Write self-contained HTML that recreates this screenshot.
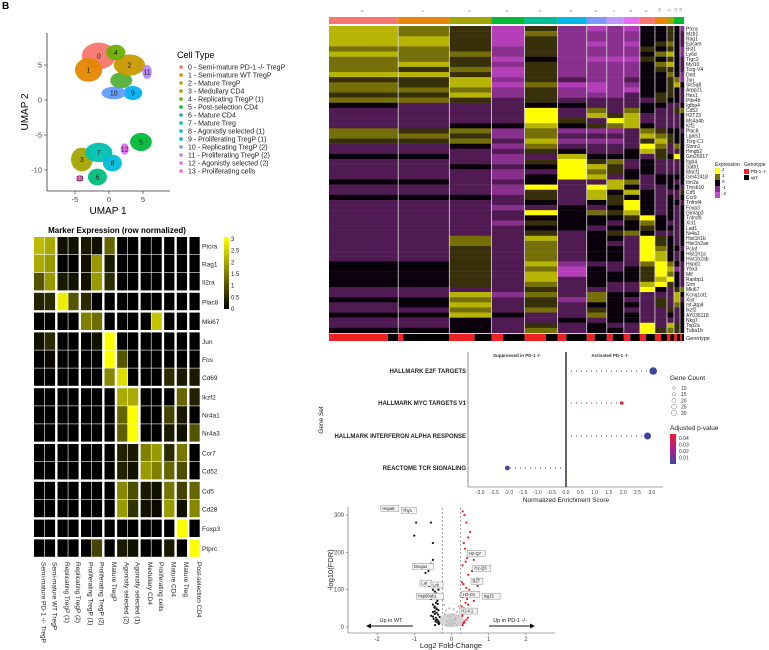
<!DOCTYPE html>
<html><head><meta charset="utf-8">
<style>
html,body{margin:0;padding:0;background:#fff;}
svg{display:block;font-family:"Liberation Sans",Arial,sans-serif;}
</style></head>
<body>
<svg id="fig" width="769" height="650" viewBox="0 0 769 650" xmlns="http://www.w3.org/2000/svg">
<text x="2" y="9" font-size="10" font-weight="bold">B</text>
</svg>
<script>
// ===== DATA =====
const umapClusters=[0,1,2,3,4,5,6,7,8,9,10,11,12,13];
const umapCX=[-1.5,-3,3,-4,1,4.7,-1.7,-1.5,0.5,3.5,0.7,5.6,2.3,-4.3];
const umapCY=[6.3,4.3,5,-8.5,6.8,-6,-11,-7.5,-9,1,1,4,-7,-11.2];
const umapRX=[2.5,2.0,2.3,1.6,1.4,1.6,1.4,2.0,1.4,1.4,1.8,0.7,0.6,0.5];
const umapRY=[1.9,1.7,1.5,1.7,1.1,1.3,1.2,1.4,1.2,1.0,0.9,1.0,0.8,0.5];
const cellTypes=["0 - Semi-mature PD-1 -/- TregP","1 - Semi-mature WT TregP","2 - Mature TregP","3 - Medullary CD4","4 - Replicating TregP (1)","5 - Post-selection CD4","6 - Mature CD4","7 - Mature Treg","8 - Agonistly selected (1)","9 - Proliferating TregP (1)","10 - Replicating TregP (2)","11 - Proliferating TregP (2)","12 - Agonistly selected (2)","13 - Proliferating cells"];
const umapXTicks=[-5,0,5];
const umapYTicks=[5,0,-5,-10];

const markerGenes=["Ptcra","Rag1","Il2ra","Plac8","Mki67","Jun","Fos","Cd69","Ikzf2","Nr4a1","Nr4a3","Ccr7","Cd52","Cd5","Cd28","Foxp3","Ptprc"];
const markerGeneGroups=[0,0,0,1,2,3,3,3,4,4,4,5,5,6,6,7,8];
const markerCols=["Semi-mature PD-1 -/- TregP","Semi-mature WT TregP","Replicating TregP (1)","Replicating TregP (2)","Proliferating TregP (1)","Proliferating TregP (2)","Mature TregP","Agonistly selected (2)","Agonistly selected (1)","Medullary CD4","Proliferating cells","Mature CD4","Mature Treg","Post-selection CD4"];
const markerColGroups=[0,0,1,1,2,2,3,4,4,5,5,6,7,8];
const markerVals=[
[2.2,2.0,0.2,0.2,0.3,0.2,1.2,0,0,0,0,0,0,0],
[2.0,1.8,0,0,0.2,1.8,0.3,0,0,0,0,0,0,0],
[1.0,1.8,0.3,0.2,0.2,1.8,0.5,0,0,0,0,0,0,0],
[0.4,0.5,2.8,1.0,0.5,0,0,0,0,0,0,0,0,0],
[0,0,0,0,1.5,1.3,0,0,0,0,2.3,0,0,0],
[0.2,0.5,0,0,0,0.2,3,0,0,0,0,0,0,0],
[0,0.1,0,0,0,0,3,1.0,0,0,0,0,0,0],
[0,0,0,0,0,0,1.6,2.6,0,0,0,0.5,0.3,0.3],
[0,0,0,0,0,0,0,2.0,2.0,0,0,0,1.2,0.4],
[0,0,0,0,0,0,0,1.2,3,0,0,0.8,0.3,0],
[0,0,0,0,0,0,0,1.1,3,0,0,0.3,0.2,1.0],
[0,0,0,0,0,0,0,0.4,0.3,1.5,1.8,0.5,1.4,0],
[0,0,0,0,0,0,0,0.4,0.2,1.8,1.5,1.2,0.9,0],
[0,0,0,0,0,0,0,1.6,0.9,0.3,0.2,1.4,0.8,1.2],
[0,0,0,0,0,0,0,1.8,0.6,0.2,0.1,1.8,0.2,1.6],
[0,0,0,0,0,0,0,0,0,0,0,0,3,0],
[0,0,0,0,0,0.8,0,0.3,0.2,0,0,0.3,0,3]];
const markerScaleTicks=[0,0.5,1,1.5,2,2.5,3];

const hmClusterLabels=["0","1","2","3","4","5","6","7","8","9","10","11","12","13"];
const hmClusterCells=[69,51,42,33,33,29,20,17,16,15,12,7,6,4];
const hmGenotypeRed=[0.85,0.1,0.6,0.35,0.65,0.3,0.4,0.35,0.4,0.4,0.5,0.5,0.5,0.5];
const hmGenes=["Ptcra","Mzb1","Rag1","Epcam","Bst1","Ly6d","Trgc2","Myl10","Tcrg-V4","Dntt","Jun","Slc5a8","Arpp21","Hes1","Pde4b","Igfbp4","Cd52","H2T23","Ms4a4b","Klf2","Plac8","Lgals1","Tcrg-C1","Stmn1","Hmgb2","Gm26917","Itgb4","Satb1","Macf1","Gm42418","Itm2a","Tmsb10","Cd5","Ccr9","Tnfrsf4","Foxp3","Gimap3","Tnfrsf9","Xcl1","Lad1","Nr4a1","Hist1h1b","Hist1h2ae","Pclaf","Hist1h1a","Hist1h2ab","Hspd1","Ybx3","Mif","Ranbp1","Srm","Mki67","Kcnq1ot1","Xist","mt-Atp8","Ikzf2","AY036118","Nkg7","Top2a","Tuba1b"];
const hmRows=[
"hgfbfcbcbeefec","hgfbgcccceefed","hhfbfcccceefed","hhfbfcbcbefged","ggfcfccccfefec",
"hggcfcccceghec","ggfbecbbbfefed","ghfcfcccceghed","gfgbfcccceffed","hhfbfcccceegec",
"ffhcfdccdeefgc","gfhbgbbcceefhe","gggcfcbcbeefed","ffhcfcccdeffed","ggfdfdddddfeed",
"edddeedddeedde","ddddidgdgeddfg","ddddidhfhdddde","ddddifdihdddde","ddeehefgheddde",
"gfgcgcccdgfeed","ggfcgddddhgfee","ffgdhcccdfhfee","ddecgddddigdge","ddddfeddehfdde",
"eedcdheeedfeie","dddcfifgdeddde","ddedeihfdeddde","dddcdigfeeddde","dddceihdedeeee",
"eeddeddhgdeede","dddcidiheddeed","dddcfdhehedddf","eeedfdhfeedede","ddddedefiedeed",
"dddcdedeiedede","ddddiegfhedede","ddddeeeefieede","dddcfeedegedde","ddddeedeefeede",
"ddddfdefgeddde","ddgdhdeedifede","ddgdgdeddifede","ddfdgdeedigeed","ddfdgdeedihede",
"ddfdgdeedihede","eefdhcdddgiged","eefdgbedefihcd","eefdhbeeefiged","eefdhdeeefhied",
"eefdgdeddhifed","ddddfddddiedfg","ddhcgdgeedddhe","eegdfcgeddfdhd","dehdfdeeedfdge",
"ddgdgdfedddfde","eeheddgeeddede","ddeddedeedddde","ddedfdeddidhfe","eeedgdeedifgfe"];
const exprTicks=[2,1,0,-1,-2];

const gseaSets=["HALLMARK E2F TARGETS","HALLMARK MYC TARGETS V1","HALLMARK INTERFERON ALPHA RESPONSE","REACTOME TCR SIGNALING"];
const gseaNES=[3.05,1.95,2.85,-2.05];
const gseaCount=[28,8,25,14];
const gseaPadj=[0.005,0.045,0.006,0.01];
const gseaXTicks=[-3.0,-2.5,-2.0,-1.5,-1.0,-0.5,0.0,0.5,1.0,1.5,2.0,2.5,3.0];
const countLegend=[10,15,20,25,30];
const padjTicks=[0.04,0.03,0.02,0.01];

const volXTicks=[-2,-1,0,1,2];
const volYTicks=[0,100,200,300];
const wtFC=[-1.0,-0.95,-0.55,-0.5,-0.7,-0.5,-0.6,-0.62,-0.55,-0.5,-0.45,-0.6,-0.55,-0.4,-0.35,-0.5,-0.45,-0.42,-0.38,-0.4,-0.35,-0.5,-0.45,-0.55,-0.42,-0.38,-0.35,-0.33,-0.45,-0.4,-0.5,-0.36,-0.42,-0.48,-0.38,-0.34,-0.44,-0.4,-0.46,-0.37,-0.32,-0.43];
const wtY=[245,280,280,225,145,180,110,150,170,100,95,85,75,90,100,60,55,65,70,50,45,40,35,30,25,20,15,10,42,48,28,33,18,22,12,8,5,38,52,62,27,15];
const pdFC=[0.3,0.35,0.4,0.5,0.45,0.33,0.36,0.5,0.42,0.6,0.38,0.3,0.55,0.45,0.7,0.28,0.32,0.4,0.48,0.52,0.35,0.3,0.42,0.6,0.38,0.45,0.27,0.33,0.5,0.36,0.3,0.29,0.44,0.4,0.35,0.32,0.85,0.7,0.3,0.34];
const pdY=[310,300,280,255,240,225,210,200,185,180,175,165,150,140,130,120,115,105,100,90,85,80,75,70,65,60,55,50,45,40,35,30,25,20,15,10,80,110,5,12];
const nsFC=[-0.2,-0.15,-0.1,-0.05,0,0.05,0.1,0.15,0.2,-0.18,-0.08,0.08,0.18,-0.12,0.12,0,-0.22,0.22,-0.03,0.03,-0.14,0.14,-0.06,0.06];
const nsY=[60,45,30,20,12,18,25,40,55,35,8,10,30,15,20,5,75,85,28,33,5,4,50,48];
const volLabels=["Hspa8","Thy1","Dnaja1","Lat","Hsp90ab1","Lck","H2-D1","H2-K1","H2-Q7","H2-Q6","B2T","Isg15"];
const volLabelFC=[-1.55,-1.0,-0.7,-0.5,-0.6,-0.2,0.3,0.25,0.45,0.6,0.55,0.85];
const volLabelY=[315,310,160,115,80,110,85,40,195,155,120,80];

// ===== DRAW =====
const NS="http://www.w3.org/2000/svg";
const svg=document.getElementById('fig');
function mk(tag,attrs,parent,text){const e=document.createElementNS(NS,tag);for(const k in attrs)e.setAttribute(k,attrs[k]);if(text!==undefined)e.textContent=text;(parent||svg).appendChild(e);return e;}
function grp(name){const g=mk('g',{});return g;}
function lerp(a,b,t){return a+(b-a)*t;}
function mix(c1,c2,t){return 'rgb('+[0,1,2].map(i=>Math.round(lerp(c1[i],c2[i],t))).join(',')+')';}

// --- UMAP ---
const gU=grp('umap-plot');
const ux=v=>109+v*6.8, uy=v=>100-v*7;
const uCols=["#F8766D","#E58700","#C99800","#A3A500","#6BB100","#00BA38","#00BF7D","#00C0AF","#00BCD8","#00B0F6","#619CFF","#B983FF","#E76BF3","#FD61D1"];
mk('line',{x1:47,y1:33,x2:47,y2:191,stroke:'#333','stroke-width':0.8},gU);
mk('line',{x1:47,y1:191,x2:170,y2:191,stroke:'#333','stroke-width':0.8},gU);
mk('ellipse',{cx:ux(1.8),cy:uy(2.8),rx:11,ry:8,fill:'#5BB540'},gU);
umapClusters.forEach((c,i)=>{
  const e=mk('ellipse',{cx:ux(umapCX[i]),cy:uy(umapCY[i]),rx:umapRX[i]*6.8,ry:umapRY[i]*7,fill:uCols[i],opacity:0.95},gU);
  
  
});
umapClusters.forEach((c,i)=>{mk('text',{x:ux(umapCX[i]),y:uy(umapCY[i])+2.5,'font-size':7,'text-anchor':'middle',fill:'#222'},gU,String(c));});
umapXTicks.forEach(t=>{mk('line',{x1:ux(t),y1:191,x2:ux(t),y2:194,stroke:'#333','stroke-width':0.6},gU);mk('text',{x:ux(t),y:202,'font-size':7.5,'text-anchor':'middle',fill:'#444'},gU,String(t));});
umapYTicks.forEach(t=>{mk('line',{x1:44,y1:uy(t),x2:47,y2:uy(t),stroke:'#333','stroke-width':0.6},gU);mk('text',{x:42,y:uy(t)+2.5,'font-size':7.5,'text-anchor':'end',fill:'#444'},gU,String(t));});
const ut1=mk('text',{x:108,y:214,'font-size':10,'text-anchor':'middle'},gU,'UMAP 1');
const ut2=mk('text',{x:0,y:0,'font-size':10,'text-anchor':'middle',transform:'translate(28,112) rotate(-90)'},gU,'UMAP 2');
const gL=grp('cell-type-legend');
mk('text',{x:177,y:58,'font-size':9},gL,'Cell Type');
cellTypes.forEach((t,i)=>{const y=69+i*8;
  const le=mk('g',{},gL);
  mk('circle',{cx:181,cy:y-2,r:1.8,fill:uCols[i]},le);mk('text',{x:188,y:y+0.5,'font-size':7,fill:'#222'},le,t);});

// --- Marker heatmap ---
const gM=grp('marker-heatmap');
mk('text',{x:117,y:233,'font-size':8,'font-weight':'bold','text-anchor':'middle'},gM,'Marker Expression (row normalized)');
const mx0=34,cw=10.85,gapX=1.8,my0=237,rh=18.0,gapY=1.8;
function mColX(j){return mx0+j*cw+markerColGroups[j]*gapX;}
function mRowY(i){return my0+i*rh+markerGeneGroups[i]*gapY;}
const mScale=v=>mix([0,0,0],[255,255,0],Math.min(1,v/3));
markerVals.forEach((row,i)=>row.forEach((v,j)=>{
  const r=mk('rect',{x:mColX(j),y:mRowY(i),width:cw-0.6,height:rh-0.6,fill:mScale(v)},gM);
  
}));
markerGenes.forEach((g,i)=>mk('text',{x:202,y:mRowY(i)+rh/2+2.5,'font-size':6.5,fill:'#222'},gM,g));
markerCols.forEach((c,j)=>mk('text',{x:0,y:0,'font-size':6.5,fill:'#222',transform:`translate(${mColX(j)+cw/2+2},562) rotate(90)`},gM,c));
const gMs=grp('marker-colorbar');
const mgd=mk('linearGradient',{id:'mg',x1:0,y1:1,x2:0,y2:0},mk('defs',{},gMs));
mk('stop',{offset:0,'stop-color':'#000'},mgd);mk('stop',{offset:1,'stop-color':'#ff0'},mgd);
mk('rect',{x:224,y:237,width:5,height:72,fill:'url(#mg)'},gMs);
markerScaleTicks.forEach(t=>mk('text',{x:231,y:309-t/3*70+2,'font-size':6,fill:'#222'},gMs,String(t)));

// --- Top heatmap ---
const gH=grp('expression-heatmap');
const hx0=329,hx1=684,hy0=26,hy1=333;
const totalCells=hmClusterCells.reduce((a,b)=>a+b,0);
const hCol=["#F8766D","#E58700","#A3A500","#00BA38","#00BF96","#00B8E7","#7F96FF","#C197FF","#E76BF3","#F8766D","#E58700","#A3A500","#00BA38","#00BA38"];
let cum=0;const cxs=hmClusterCells.map(n=>{const s=hx0+(hx1-hx0)*cum/totalCells;cum+=n;return [s,hx0+(hx1-hx0)*cum/totalCells];});
const hrh=(hy1-hy0)/hmGenes.length;
const eCol=v=>{const t=(v+2)/4;
  if(t<0.5){return mix([200,70,205],[10,0,12],Math.pow(t/0.5,1.6));}
  return mix([10,0,12],[255,255,0],Math.pow((t-0.5)/0.5,1.2));};
hmRows.forEach((s,i)=>{for(let j=0;j<14;j++){const v=(s.charCodeAt(j)-101)*0.5;
  const r=mk('rect',{x:cxs[j][0],y:hy0+i*hrh,width:cxs[j][1]-cxs[j][0]+0.2,height:hrh+0.2,fill:eCol(v)},gH);
  }});
cxs.forEach((c,j)=>{
  const a=mk('rect',{x:c[0],y:17,width:c[1]-c[0],height:7,fill:hCol[j]},gH);
  mk('text',{x:0,y:0,'font-size':3.5,fill:'#666',transform:`translate(${(c[0]+c[1])/2},12) rotate(-90)`},gH,hmClusterLabels[j]);
  const rw=(c[1]-c[0])*hmGenotypeRed[j];
  mk('rect',{x:c[0],y:334,width:rw,height:7,fill:'#EE2222'},gH);
  mk('rect',{x:c[0]+rw,y:334,width:c[1]-c[0]-rw,height:7,fill:'#000'},gH);
  if(j>0)mk('line',{x1:c[0],y1:hy0,x2:c[0],y2:hy1,stroke:'#ddd','stroke-width':0.8},gH);
});
mk('line',{x1:hx0,y1:25,x2:hx1,y2:25,stroke:'#fff','stroke-width':1.2},gH);
hmGenes.forEach((g,i)=>mk('text',{x:686,y:hy0+i*hrh+hrh/2+1.7,'font-size':5,fill:'#222'},gH,g));
mk('text',{x:686,y:340,'font-size':5.5,fill:'#222'},gH,'Genotype');
const gE=grp('expression-legend');
mk('text',{x:715,y:166,'font-size':5,fill:'#222'},gE,'Expression');
exprTicks.forEach((t,k)=>{mk('rect',{x:715,y:168+k*6,width:5,height:6,fill:eCol(t)},gE);mk('text',{x:722,y:171+k*6,'font-size':4.5,fill:'#222'},gE,String(t));});
const gG=grp('genotype-legend');
mk('text',{x:744,y:166,'font-size':5,fill:'#222'},gG,'Genotype');
mk('rect',{x:744,y:169,width:5,height:5,fill:'#EE2222'},gG);mk('text',{x:751,y:173,'font-size':4.5},gG,'PD-1 -/-');
mk('rect',{x:744,y:175,width:5,height:5,fill:'#000'},gG);mk('text',{x:751,y:179.5,'font-size':4.5},gG,'WT');

// --- GSEA dot plot ---
const gS=grp('gsea-dotplot');
const gx=v=>566+v*28.6;
const gyRows=[371,403,436,468];
mk('line',{x1:468,y1:352,x2:468,y2:487,stroke:'#444','stroke-width':0.6},gS);
mk('line',{x1:468,y1:487,x2:663,y2:487,stroke:'#444','stroke-width':0.6},gS);
mk('line',{x1:gx(0),y1:352,x2:gx(0),y2:487,stroke:'#000','stroke-width':1.2},gS);
mk('text',{x:517,y:357,'font-size':4.5,'text-anchor':'middle','font-weight':'bold',fill:'#333'},gS,'Suppressed in PD-1 -/-');
mk('text',{x:610,y:357,'font-size':4.5,'text-anchor':'middle','font-weight':'bold',fill:'#333'},gS,'Activated PD-1 -/-');
const pCol=p=>{const t=Math.min(1,Math.max(0,(p-0.005)/0.04));return mix([60,70,160],[235,30,50],t);};
gseaSets.forEach((s,i)=>{const y=gyRows[i];
  mk('text',{x:466,y:y+2,'font-size':6,'font-weight':'bold','text-anchor':'end',fill:'#222'},gS,s);
  const x1=gx(0),x2=gx(gseaNES[i]);
  mk('line',{x1:x1,y1:y,x2:x2,y2:y,stroke:pCol(gseaPadj[i]),'stroke-width':0.9,'stroke-dasharray':'1,4'},gS);
  const c=mk('circle',{cx:x2,cy:y,r:1+gseaCount[i]/10,fill:pCol(gseaPadj[i])},gS);
  
});
gseaXTicks.forEach(t=>mk('text',{x:gx(t),y:494,'font-size':5,'text-anchor':'middle',fill:'#444'},gS,t.toFixed(1)));
mk('text',{x:566,y:502,'font-size':6.5,'text-anchor':'middle',fill:'#222'},gS,'Normalized Enrichment Score');
mk('text',{x:0,y:0,'font-size':6.5,'text-anchor':'middle',fill:'#222',transform:'translate(323,420) rotate(-90)'},gS,'Gene Set');
const gC=grp('gene-count-legend');
mk('text',{x:670,y:380,'font-size':6.5,fill:'#222'},gC,'Gene Count');
countLegend.forEach((c,k)=>{const y=388+k*6.2;mk('circle',{cx:674,cy:y,r:0.6+c/14,fill:'none',stroke:'#555','stroke-width':0.4},gC);mk('text',{x:681,y:y+2,'font-size':5,fill:'#333'},gC,String(c));});
const gP=grp('padj-legend');
mk('text',{x:670,y:430,'font-size':6.5,fill:'#222'},gP,'Adjusted p-value');
const pg=mk('linearGradient',{id:'pg',x1:0,y1:0,x2:0,y2:1},mk('defs',{},gP));
mk('stop',{offset:0,'stop-color':'#EB1E32'},pg);mk('stop',{offset:0.5,'stop-color':'#B0208A'},pg);mk('stop',{offset:1,'stop-color':'#3C46A0'},pg);
mk('rect',{x:670,y:434,width:6,height:30,fill:'url(#pg)'},gP);
padjTicks.forEach((t,k)=>mk('text',{x:679,y:440+k*6.5,'font-size':5,fill:'#333'},gP,t.toFixed(2)));

// --- Volcano ---
const gV=grp('volcano-plot');
const vx=v=>451.5+v*37.2, vy=v=>627-v*0.373;
mk('line',{x1:348,y1:507,x2:348,y2:633,stroke:'#555','stroke-width':0.6},gV);
mk('line',{x1:348,y1:633,x2:555,y2:633,stroke:'#555','stroke-width':0.6},gV);
volXTicks.forEach(t=>{mk('line',{x1:vx(t),y1:633,x2:vx(t),y2:635,stroke:'#555','stroke-width':0.5},gV);mk('text',{x:vx(t),y:641,'font-size':6,'text-anchor':'middle',fill:'#444'},gV,String(t));});
volYTicks.forEach(t=>{mk('line',{x1:346,y1:vy(t),x2:348,y2:vy(t),stroke:'#555','stroke-width':0.5},gV);mk('text',{x:344,y:vy(t)+2,'font-size':6,'text-anchor':'end',fill:'#444'},gV,String(t));});
mk('line',{x1:vx(-0.25),y1:508,x2:vx(-0.25),y2:633,stroke:'#444','stroke-width':0.5,'stroke-dasharray':'2,2'},gV);
mk('line',{x1:vx(0.25),y1:508,x2:vx(0.25),y2:633,stroke:'#444','stroke-width':0.5,'stroke-dasharray':'2,2'},gV);
mk('ellipse',{cx:vx(0),cy:vy(18),rx:12,ry:7,fill:'#d4d4d4'},gV);
nsFC.forEach((f,i)=>mk('circle',{cx:vx(f),cy:vy(nsY[i]),r:1.1,fill:'#bbb'},gV));
wtFC.forEach((f,i)=>{const c=mk('circle',{cx:vx(f),cy:vy(wtY[i]),r:1.1,fill:'#111'},gV);});
pdFC.forEach((f,i)=>{const c=mk('circle',{cx:vx(f),cy:vy(pdY[i]),r:1.1,fill:'#E22'},gV);});
volLabels.forEach((l,i)=>{const x=vx(volLabelFC[i])-(volLabelFC[i]<0?12:0),y=vy(volLabelY[i]);
  mk('rect',{x:x-1,y:y-4,width:l.length*3+3,height:6,fill:'#f4f4f4',stroke:'#777','stroke-width':0.4},gV);
  mk('text',{x:x+0.5,y:y+0.5,'font-size':4.2,fill:'#222'},gV,l);});
mk('text',{x:391,y:622,'font-size':5.5,'text-anchor':'middle',fill:'#222'},gV,'Up in WT');
mk('line',{x1:413,y1:626,x2:370,y2:626,stroke:'#111','stroke-width':0.9},gV);
mk('polygon',{points:'366,626 371,623.5 371,628.5',fill:'#111'},gV);
mk('text',{x:510,y:622,'font-size':5.5,'text-anchor':'middle',fill:'#222'},gV,'Up in PD-1 -/-');
mk('line',{x1:489,y1:626,x2:531,y2:626,stroke:'#111','stroke-width':0.9},gV);
mk('polygon',{points:'535,626 530,623.5 530,628.5',fill:'#111'},gV);
mk('text',{x:451,y:648,'font-size':7.5,'text-anchor':'middle',fill:'#222'},gV,'Log2 Fold-Change');
mk('text',{x:0,y:0,'font-size':7.5,'text-anchor':'middle',fill:'#222',transform:'translate(333,570) rotate(-90)'},gV,'-log10(FDR)');
</script>
</body></html>
